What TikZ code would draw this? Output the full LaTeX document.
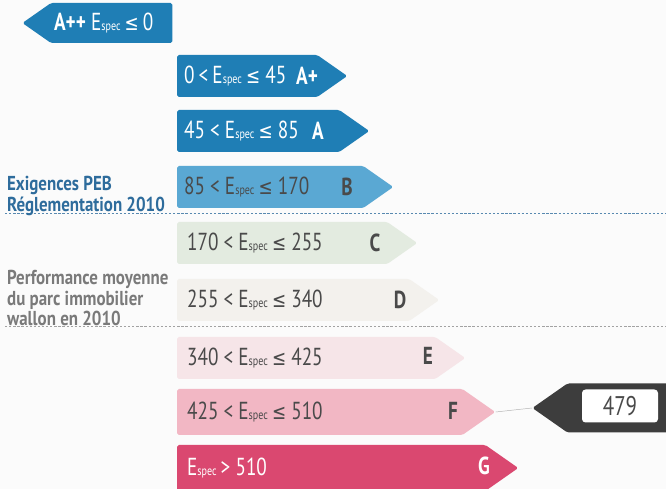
\documentclass[tikz,border=0pt]{standalone}
\usepackage{fontspec}
\setmainfont[FakeStretch=0.78]{PT Sans}
\newfontfamily\notefont[FakeStretch=0.84]{PT Sans}
\newfontfamily\symfont[FakeStretch=0.8]{DejaVu Sans}
\usetikzlibrary{shapes.symbols,positioning}
\definecolor{PebBlue}{HTML}{1F7EB5}
\definecolor{PebB}{HTML}{5AA8D3}
\definecolor{PebC}{HTML}{E3EBE0}
\definecolor{PebD}{HTML}{F3F1ED}
\definecolor{PebE}{HTML}{F6E5E8}
\definecolor{PebF}{HTML}{F2B7C4}
\definecolor{PebG}{HTML}{DA4870}
\definecolor{Marker}{HTML}{3D3D3D}
\definecolor{Ink}{HTML}{4A4A4A}
\definecolor{NoteBlue}{HTML}{2E6C9C}
\definecolor{NoteGrey}{HTML}{7A7A7A}
\newcommand{\Espec}{E{\fontsize{11}{12}\selectfont spec}}
\newcommand{\leqs}{{\symfont\fontsize{18}{22}\selectfont ≤}}
\newcommand{\pxu}{0.03cm}
\tikzset{
  classbar/.style={shape=signal,signal to=east,signal pointer angle=70,anchor=west,
    inner sep=0pt,rounded corners=1.5pt,draw=none,minimum height=42*\pxu},
  rangetext/.style={anchor=west,text=Ink,font=\fontsize{21}{24}\selectfont},
  classletter/.style={text=Ink,font=\fontsize{21}{24}\selectfont\bfseries},
  notetext/.style={anchor=west,align=left,font=\notefont\fontsize{17.2}{17.8}\selectfont\bfseries},
  limitline/.style={dashed,dash pattern=on 2pt off 1.5pt,line width=0.6pt},
}

\begin{document}
\begin{tikzpicture}[x=0.03cm,y=-0.03cm]
    \useasboundingbox (0,0) rectangle (666,489);
    \clip (0,0) rectangle (666,489);
    \fill[white!97!gray] (0,0) rectangle (666,489);

    % top class, pointing left
    \node[classbar,signal to=west,fill=PebBlue,minimum width=150*\pxu,minimum height=40*\pxu] (app) at (22,23) {};
    \node[anchor=west,text=white,font=\fontsize{21}{24}\selectfont] at (50,23) {\textbf{A++} \Espec\,\leqs\,0};

    % the classes
    \node[classbar,fill=PebBlue,minimum width=170*\pxu] (ap) at (177,76) {};
    \node[rangetext,text=white] at (180,76) {0\,<\,\Espec\,\leqs{} 45};
    \node[classletter,text=white] at (307,76) {A+};

    \node[classbar,fill=PebBlue,minimum width=192*\pxu] (a) at (177,131) {};
    \node[rangetext,text=white] at (180,131) {45 < \Espec\,\leqs{} 85};
    \node[classletter,text=white] at (318,131) {A};

    \node[classbar,fill=PebB,minimum width=216*\pxu] (b) at (177,187) {};
    \node[rangetext] at (180,187) {85 < \Espec\,\leqs{} 170};
    \node[classletter] at (347,187) {B};

    \node[classbar,fill=PebC,minimum width=240*\pxu] (c) at (177,243) {};
    \node[rangetext] at (183,243) {170 < \Espec\,\leqs{} 255};
    \node[classletter] at (375,243) {C};

    \node[classbar,fill=PebD,minimum width=262*\pxu] (d) at (177,300) {};
    \node[rangetext] at (183,300) {255 < \Espec\,\leqs{} 340};
    \node[classletter] at (400,300) {D};

    \node[classbar,fill=PebE,minimum width=288*\pxu] (e) at (177,358) {};
    \node[rangetext] at (183,358) {340 < \Espec\,\leqs{} 425};
    \node[classletter] at (428,356) {E};

    \node[classbar,fill=PebF,minimum width=318*\pxu,minimum height=46*\pxu] (f) at (177,412) {};
    \node[rangetext] at (183,412) {425 < \Espec\,\leqs{} 510};
    \node[classletter] at (453,411) {F};

    \node[classbar,fill=PebG,minimum width=341*\pxu,minimum height=46*\pxu] (g) at (177,468) {};
    \node[rangetext,text=white] at (183,468) {\Espec\,> 510};
    \node[classletter,text=white] at (484,466) {G};

    % limits
    \draw[limitline,draw=NoteBlue!80] (5,213) -- (666,213);
    \draw[limitline,draw=NoteGrey!70] (5,326) -- (666,326);

    \node[notetext,text=NoteBlue] (peb) at (3,196) {Exigences PEB\\Réglementation 2010};
    \node[notetext,text=NoteGrey] (parc) at (3,298) {Performance moyenne\\du parc immobilier\\wallon en 2010};

    % the building
    \node[classbar,signal to=west,fill=Marker,minimum width=150*\pxu,minimum height=49*\pxu] (mark) at (532,408) {};
    \node[draw=none,fill=white,rounded corners=3pt,minimum width=76*\pxu,minimum height=33*\pxu,
      text=Ink,font=\fontsize{23}{26}\selectfont] (value) at (620,406) {479};
    \draw[gray!60,line width=0.4pt] (f.east) -- (mark.west);
\end{tikzpicture}
\end{document}
